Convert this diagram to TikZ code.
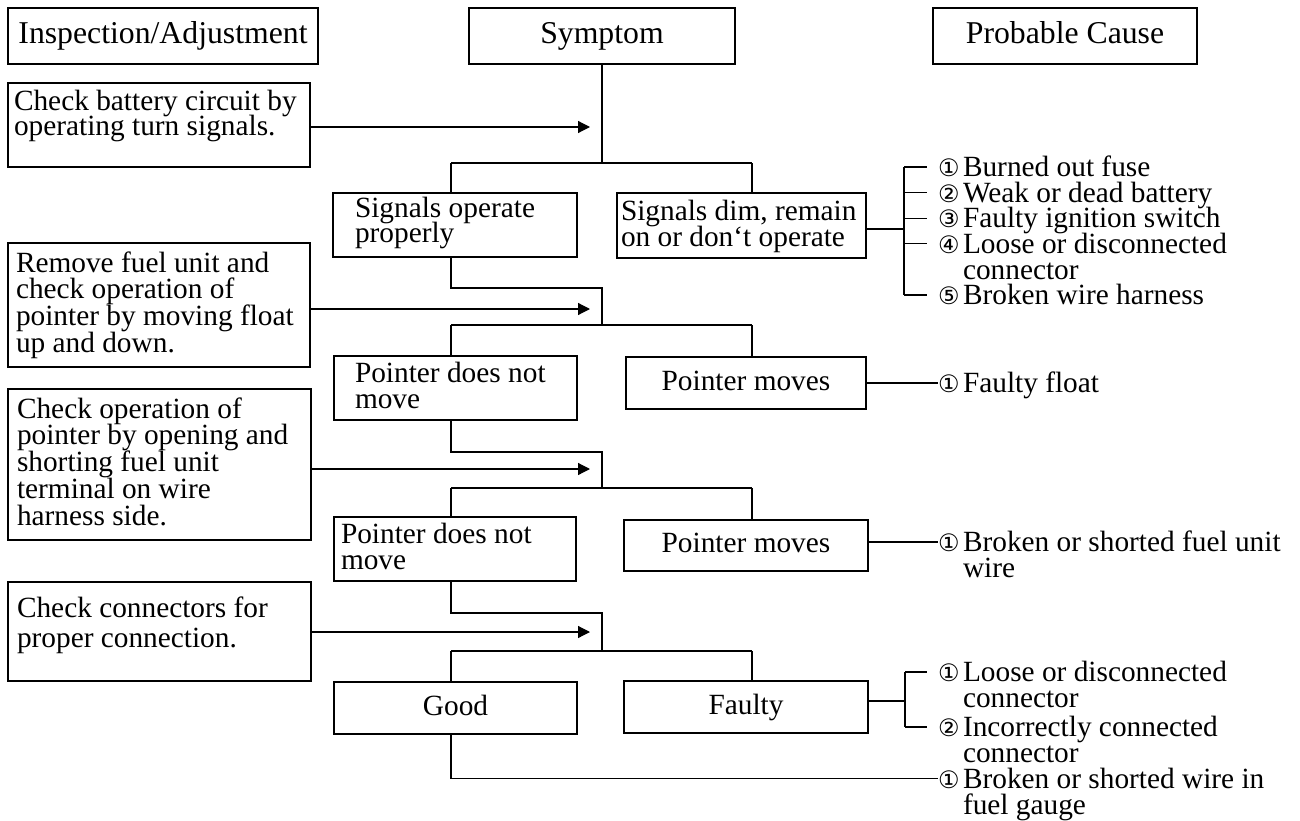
\documentclass[tikz,border=0pt]{standalone}
\usepackage{fontspec}
\setmainfont{Liberation Serif}
\newfontfamily\djv{DejaVu Sans}
\usetikzlibrary{arrows.meta}
\newdimen\PX \PX=0.75pt
% #1 width, #2 height, #3 left pad, #4 first baseline, #5 line skip (all px), #6 text
\newcommand{\boxtxt}[6]{%
  \begin{minipage}[c][#2\PX][t]{#1\PX}%
  \fontsize{22pt}{#5\PX}\selectfont\lineskiplimit=-100pt\lineskip=0pt
  \raggedright\leftskip=#3\PX\relax
  \vspace*{\dimexpr#4\PX-22\PX\relax}%
  \noindent\rule{0pt}{22\PX}#6\par
  \end{minipage}}
\newcommand{\causetxt}[2]{%
  \begin{minipage}[t]{355\PX}%
  \fontsize{22pt}{26\PX}\selectfont\lineskiplimit=-100pt\lineskip=0pt
  \raggedright\leftskip=25\PX\relax
  \noindent\llap{\makebox[25\PX][l]{\djv\fontsize{18pt}{18pt}\selectfont#1}}#2\par
  \end{minipage}}
\begin{document}
\begin{tikzpicture}[x=0.75pt,y=-0.75pt,line width=0.9pt,
  box/.style={draw,inner sep=0pt,outer sep=0pt},
  cbox/.style={draw,inner sep=0pt,outer sep=0pt,text height=15pt,text depth=4.5pt,
    font=\fontsize{22pt}{24pt}\selectfont},
  hbox/.style={cbox,font=\fontsize{23.8pt}{26pt}\selectfont},
  cause/.style={anchor=base west,inner sep=0pt,outer sep=0pt},
  arr/.style={-{Triangle[length=9pt,width=9pt]}}]
\useasboundingbox (0,0) rectangle (1300,821);

% headers
\node[hbox,minimum width=232.5pt,minimum height=42pt] (hIns) at (163,36) {Inspection/Adjustment};
\node[hbox,minimum width=199.5pt,minimum height=42pt] (hSym) at (602,36) {Symptom};
\node[hbox,minimum width=198pt,minimum height=42pt] (hCause) at (1065,36) {Probable Cause};

% inspection boxes
\node[box] (i1) at (159,125) {\boxtxt{302}{84}{6}{27}{25}{Check battery circuit by\\operating turn signals.}};
\node[box] (i2) at (159,305) {\boxtxt{302}{124}{8}{29}{26.7}{Remove fuel unit and\\check operation of\\pointer by moving float\\up and down.}};
\node[box] (i3) at (159.5,464.5) {\boxtxt{303}{151}{9}{29}{26.75}{Check operation of\\pointer by opening and\\shorting fuel unit\\terminal on wire\\harness side.}};
\node[box] (i4) at (159.5,631.5) {\boxtxt{303}{99}{9}{35}{30}{Check connectors for\\proper connection.}};

% symptom boxes
\node[box] (s1a) at (455,225) {\boxtxt{244}{64}{22}{24}{25}{Signals operate\\properly}};
\node[box] (s1b) at (741.5,225.5) {\boxtxt{249}{65}{4}{27}{26.5}{Signals dim, remain\\on or don‘t operate}};
\node[box] (s2a) at (455.5,388) {\boxtxt{243}{64}{21}{26}{26}{Pointer does not\\move}};
\node[cbox,minimum width=180pt,minimum height=39pt] (s2b) at (746,383) {Pointer moves};
\node[box] (s3a) at (455,549) {\boxtxt{242}{64}{7}{26}{26}{Pointer does not\\move}};
\node[cbox,minimum width=183pt,minimum height=38.25pt] (s3b) at (746,545.5) {Pointer moves};
\node[cbox,minimum width=182.25pt,minimum height=39pt] (s4a) at (455.5,708) {Good};
\node[cbox,minimum width=183pt,minimum height=39pt] (s4b) at (746,707) {Faulty};

% causes
\node[cause] (c1) at (938,176.5) {\causetxt{①}{Burned out fuse}};
\node[cause] (c2) at (938,202.1) {\causetxt{②}{Weak or dead battery}};
\node[cause] (c3) at (938,227.7) {\causetxt{③}{Faulty ignition switch}};
\node[cause] (c4) at (938,253.3) {\causetxt{④}{Loose or disconnected\\connector}};
\node[cause] (c5) at (938,304.5) {\causetxt{⑤}{Broken wire harness}};
\node[cause] (c6) at (938,392.5) {\causetxt{①}{Faulty float}};
\node[cause] (c7) at (938,551.5) {\causetxt{①}{Broken or shorted fuel unit\\wire}};
\node[cause] (c8) at (938,681.5) {\causetxt{①}{Loose or disconnected\\connector}};
\node[cause] (c9) at (938,736.5) {\causetxt{②}{Incorrectly connected\\connector}};
\node[cause] (c10) at (938,788) {\causetxt{①}{Broken or shorted wire in\\fuel gauge}};

% tick coordinates
\foreach \c in {c1,c2,c3,c4,c5,c8,c9}
  \coordinate (t\c) at ([xshift=-8.25pt,yshift=7.1pt]\c.base west);
\foreach \c in {c6,c7,c10}
  \coordinate (t\c) at ([yshift=7.1pt]\c.base west);

% level 1
\coordinate (j1) at (602,163);
\coordinate (b1l) at (451,163);
\coordinate (b1r) at (752,163);
\coordinate (a1) at (590,127);
\draw (hSym.south) -- (j1);
\draw (b1l) -- (b1r);
\draw (b1l) -- (b1l |- s1a.north);
\draw (b1r) -- (b1r |- s1b.north);
\draw[arr] (i1.east |- a1) -- (a1);

% causes bracket 1
\coordinate (k1) at (904,229);
\draw (k1 -| s1b.east) -- (k1);
\draw (tc1 -| k1) -- (tc5 -| k1);
\foreach \c in {c1,c2,c3,c4,c5} \draw (t\c -| k1) -- (t\c);

% level 2
\coordinate (e1) at (451,288);
\coordinate (j2) at (602,288);
\coordinate (j2b) at (602,325);
\coordinate (b2l) at (451,325);
\coordinate (b2r) at (752,325);
\coordinate (a2) at (590,309);
\draw (e1 |- s1a.south) -- (e1) -- (j2) -- (j2b);
\draw (b2l) -- (b2r);
\draw (b2l) -- (b2l |- s2a.north);
\draw (b2r) -- (b2r |- s2b.north);
\draw[arr] (i2.east |- a2) -- (a2);
\draw (s2b.east) -- (s2b.east -| c6.base west);

% level 3
\coordinate (e2) at (451,452);
\coordinate (j3) at (602,452);
\coordinate (j3b) at (602,488);
\coordinate (b3l) at (451,488);
\coordinate (b3r) at (752,488);
\coordinate (a3) at (590,469);
\draw (e2 |- s2a.south) -- (e2) -- (j3) -- (j3b);
\draw (b3l) -- (b3r);
\draw (b3l) -- (b3l |- s3a.north);
\draw (b3r) -- (b3r |- s3b.north);
\draw[arr] (i3.east |- a3) -- (a3);
\draw (tc7 -| s3b.east) -- (tc7);

% level 4
\coordinate (e3) at (451,613);
\coordinate (j4) at (602,613);
\coordinate (j4b) at (602,651);
\coordinate (b4l) at (451,651);
\coordinate (b4r) at (752,651);
\coordinate (a4) at (590,632);
\draw (e3 |- s3a.south) -- (e3) -- (j4) -- (j4b);
\draw (b4l) -- (b4r);
\draw (b4l) -- (b4l |- s4a.north);
\draw (b4r) -- (b4r |- s4b.north);
\draw[arr] (i4.east |- a4) -- (a4);

% causes bracket 2
\coordinate (k4) at (905,701);
\draw (k4 -| s4b.east) -- (k4);
\draw (tc8 -| k4) -- (tc9 -| k4);
\foreach \c in {c8,c9} \draw (t\c -| k4) -- (t\c);

% level 5
\coordinate (e4) at (451,778);
\draw (e4 |- s4a.south) -- (e4 |- tc10) -- (tc10);
\end{tikzpicture}
\end{document}
